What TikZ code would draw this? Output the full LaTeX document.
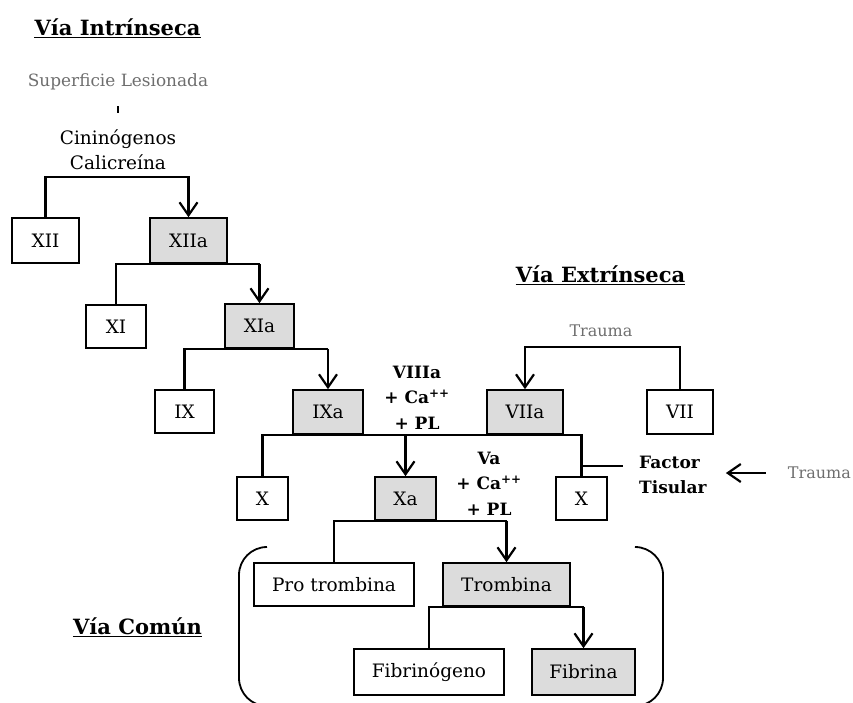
\documentclass[tikz,border=0pt]{standalone}
\usepackage{fontspec}
\setmainfont{DejaVu Serif}
\usetikzlibrary{arrows.meta,calc}
\definecolor{boxgray}{RGB}{220,220,220}
\definecolor{txtgray}{RGB}{110,110,110}
\newcommand{\fsreg}{\fontsize{18.5}{25}\selectfont}
\newcommand{\fsgray}{\fontsize{16}{22}\selectfont\color{txtgray}}
\newcommand{\fsgraybig}{\fontsize{16.9}{22}\selectfont\color{txtgray}}
\newcommand{\fsbold}{\fontsize{17}{25.5}\selectfont\bfseries}
\newcommand{\fstitle}{\fontsize{21}{25}\selectfont\bfseries}
\begin{document}
\begin{tikzpicture}[x=1pt,y=-1pt,
  fbox/.style={draw, line width=1.6pt, inner sep=0pt, font=\fsreg, fill=white},
  gbox/.style={fbox, fill=boxgray},
  conn/.style={line width=2.2pt},
  arr/.style={conn, -{Straight Barb[length=13pt,width=18pt,line width=2.2pt]}},
  ttl/.style={inner sep=0pt, anchor=base, font=\fstitle},
  lbl/.style={inner sep=0pt, align=center, font=\fsbold}
]
\useasboundingbox (0,0) rectangle (853,702);
\clip (0,0) rectangle (853,702);

% titles
\node[ttl] (t1) at (117.5,35) {Vía Intrínseca};
\draw[line width=1.5pt] ([yshift=-2.5pt]t1.base west) -- ([yshift=-2.5pt]t1.base east);
\node[ttl] (t2) at (600.5,282) {Vía Extrínseca};
\draw[line width=1.5pt] ([yshift=-2.5pt]t2.base west) -- ([yshift=-2.5pt]t2.base east);
\node[ttl] (t3) at (137.5,634) {Vía Común};
\draw[line width=1.5pt] ([yshift=-2.5pt]t3.base west) -- ([yshift=-2.5pt]t3.base east);

% intrinsic top
\node[inner sep=0pt, font=\fsgraybig] (sl) at (118,82) {Superficie Lesionada};
\coordinate (tk) at (118,106);
\draw[line width=1.5pt] (tk) -- ++(0,7);
\node[inner sep=0pt, align=center, font=\fsreg] (cin) at (118,149.5) {Cininógenos\\Calicreína};

% boxes
\node[fbox, minimum width=67pt, minimum height=45pt] (xii) at (45.5,240.5) {XII};
\node[gbox, minimum width=77pt, minimum height=45pt] (xiia) at (188.5,240.5) {XIIa};
\node[fbox, minimum width=60pt, minimum height=43pt] (xi) at (116,326.5) {XI};
\node[gbox, minimum width=69pt, minimum height=44pt] (xia) at (259.5,326) {XIa};
\node[fbox, minimum width=59pt, minimum height=43pt] (ix) at (184.5,411.5) {IX};
\node[gbox, minimum width=70pt, minimum height=44pt] (ixa) at (328,412) {IXa};
\node[gbox, minimum width=76pt, minimum height=44pt] (viia) at (525,412) {VIIa};
\node[fbox, minimum width=66pt, minimum height=44pt] (vii) at (680,412) {VII};
\node[fbox, minimum width=51pt, minimum height=43pt] (xl) at (262.5,498.5) {X};
\node[gbox, minimum width=61pt, minimum height=43pt] (xa) at (405.5,498.5) {Xa};
\node[fbox, minimum width=51pt, minimum height=43pt] (xr) at (581.5,498.5) {X};
\node[fbox, minimum width=160pt, minimum height=43pt] (pro) at (334,584.5) {Pro trombina};
\node[gbox, minimum width=127pt, minimum height=43pt] (trom) at (506.5,584.5) {Trombina};
\node[fbox, minimum width=150pt, minimum height=46pt] (fibg) at (429,672) {Fibrinógeno};
\node[gbox, minimum width=103pt, minimum height=46pt] (fibr) at (583.5,672) {Fibrina};

% labels
\node[lbl] (viiia) at (417,397.5) {VIIIa\\+ Ca\textsuperscript{++}\\+ PL};
\node[lbl] (va) at (489,483.5) {Va\\+ Ca\textsuperscript{++}\\+ PL};
\node[inner sep=0pt, anchor=west, align=left, font=\fsbold] (ft) at (639,475) {Factor\\Tisular};
\node[inner sep=0pt, anchor=east, font=\fsgray] (tr2) at (851,473) {Trauma};
\node[inner sep=0pt, font=\fsgray] (tr1) at (601,331) {Trauma};

% connectors
\draw[arr] (xii.north) -- ++(0,-40) -| (xiia.north);
\draw[conn] (xi.north) |- (xia.north |- xiia.south);
\draw[arr] (xia.north |- xiia.south) -- (xia.north);
\draw[conn] (ix.north) |- (ixa.north |- xia.south);
\draw[arr] (ixa.north |- xia.south) -- (ixa.north);
\draw[arr] (vii.north) -- ++(0,-42) -| (viia.north);
\draw[conn] (xl.north) |- (xr.north |- ixa.south) -- (xr.north);
\draw[arr] (xa.north |- ixa.south) -- (xa.north);
\coordinate (ftj) at ($(xr.north)+(0,-10)$);
\draw[line width=1.8pt] (ftj) -- ([xshift=-16pt]ft.west |- ftj);
\draw[arr] ([xshift=-22pt]tr2.west) -- ([xshift=19pt]ft.east |- tr2.west);
\draw[conn] (pro.north) |- (trom.north |- xa.south);
\draw[arr] (trom.north |- xa.south) -- (trom.north);
\draw[conn] (fibg.north) |- (fibr.north |- trom.south);
\draw[arr] (fibr.north |- trom.south) -- (fibr.north);

% brackets of the common pathway
\coordinate (bl) at (267,547);
\coordinate (br) at (637,547);
\draw[line width=1.8pt, rounded corners=28pt] (bl) -- (239,547) -- (239,706) -- (267,706);
\draw[line width=1.8pt, rounded corners=28pt] (br) -- (663,547) -- (663,706) -- (637,706);
\end{tikzpicture}
\end{document}
